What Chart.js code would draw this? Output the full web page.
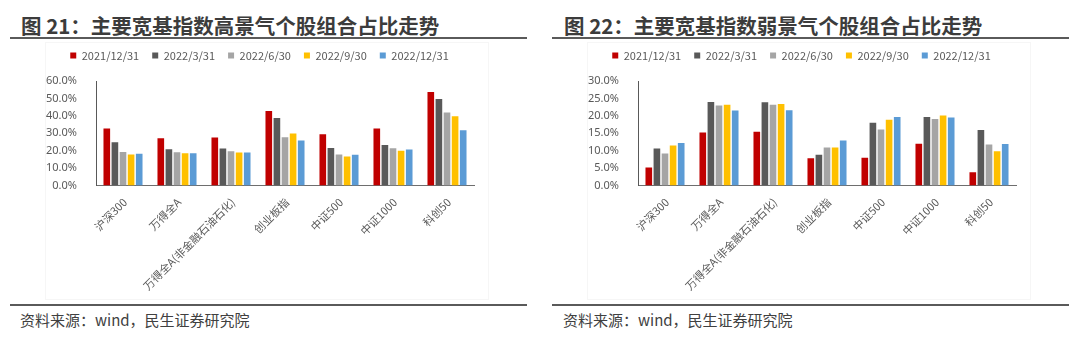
<!DOCTYPE html>
<html>
<head>
<meta charset="utf-8">
<script src="https://cdn.jsdelivr.net/npm/chart.js@4.4.0/dist/chart.umd.min.js"></script>
<style>
  html, body { margin: 0; padding: 0; background: #fff; }
  body { width: 1080px; height: 342px; position: relative; overflow: hidden;
         font-family: "Noto Sans CJK SC", "Noto Sans", sans-serif; }
  .title { position: absolute; top: 13px; height: 24px; line-height: 24px; font-size: 20.5px;
           font-weight: bold; color: #3c3c3c; white-space: nowrap; }
  .rule { position: absolute; height: 2px; background: #5a5a5a; width: 517px; }
  .foot { position: absolute; top: 310px; height: 20px; line-height: 20px; font-size: 15px;
          color: #404040; white-space: nowrap; }
  .frame { position: absolute; top: 42px; height: 258px; border: 1px solid #f6f6f6; box-sizing: border-box; }
  .cv { position: absolute; top: 41px; height: 259px; width: 450px; }
</style>
</head>
<body>
<div class="title" style="left:21px">图 21：主要宽基指数高景气个股组合占比走势</div>
<div class="title" style="left:564px">图 22：主要宽基指数弱景气个股组合占比走势</div>
<div class="rule" style="left:10px; top:37px"></div>
<div class="rule" style="left:552px; top:37px"></div>
<div class="frame" style="left:45px; width:444px"></div>
<div class="frame" style="left:587px; width:444px"></div>
<div class="cv" style="left:45px"><canvas id="c1"></canvas></div>
<div class="cv" style="left:587px"><canvas id="c2"></canvas></div>
<div class="rule" style="left:10px; top:304px"></div>
<div class="rule" style="left:552px; top:304px"></div>
<div class="foot" style="left:20px">资料来源：wind，民生证券研究院</div>
<div class="foot" style="left:563px">资料来源：wind，民生证券研究院</div>

<script>
const categories = ["沪深300", "万得全A", "万得全A(非金融石油石化)", "创业板指", "中证500", "中证1000", "科创50"];
const seriesNames = ["2021/12/31", "2022/3/31", "2022/6/30", "2022/9/30", "2022/12/31"];
const seriesColors = ["#C00000", "#595959", "#A5A5A5", "#FFC000", "#5B9BD5"];

// Chart 1: high-prosperity share (%)
const high_20211231 = [32.7, 27.2, 27.5, 42.8, 29.4, 32.7, 53.7];
const high_20220331 = [24.9, 20.8, 21.2, 38.8, 21.6, 23.3, 49.7];
const high_20220630 = [19.3, 19.1, 19.7, 27.7, 17.8, 21.4, 41.9];
const high_20220930 = [17.8, 18.5, 18.9, 29.8, 16.6, 19.9, 39.8];
const high_20221231 = [18.2, 18.5, 18.9, 25.8, 17.6, 20.6, 31.7];

// Chart 2: weak-prosperity share (%)
const weak_20211231 = [5.2, 15.2, 15.4, 7.8, 8.0, 12.0, 3.8];
const weak_20220331 = [10.6, 24.0, 23.9, 8.8, 18.0, 19.7, 15.9];
const weak_20220630 = [9.2, 23.0, 23.2, 10.9, 16.1, 19.1, 11.8];
const weak_20220930 = [11.5, 23.2, 23.4, 10.9, 18.9, 20.1, 9.8];
const weak_20221231 = [12.2, 21.5, 21.6, 12.9, 19.7, 19.5, 11.9];

const highTicksMax = 60, highTicksStep = 10;
const weakTicksMax = 30, weakTicksStep = 5;

const legendSpacer = {
  id: 'legendSpacer',
  beforeInit(chart) {
    const orig = chart.legend.fit;
    chart.legend.fit = function () {
      orig.bind(chart.legend)();
      this.height += 10;
    };
  }
};

function makeChart(id, seriesArrays, maxV, stepV) {
  const datasets = seriesArrays.map((arr, i) => ({
    label: seriesNames[i],
    data: arr,
    backgroundColor: seriesColors[i],
    borderWidth: 0,
    categoryPercentage: 0.75,
    barPercentage: 0.82
  }));
  return new Chart(document.getElementById(id), {
    type: 'bar',
    data: { labels: categories, datasets },
    plugins: [legendSpacer],
    options: {
      responsive: true,
      maintainAspectRatio: false,
      animation: false,
      devicePixelRatio: 1,
      layout: { padding: { top: -4, left: 0, right: 21, bottom: 0 } },
      plugins: {
        tooltip: { enabled: false },
        legend: {
          position: 'top',
          labels: {
            boxWidth: 6, boxHeight: 6, padding: 13, color: '#595959',
            font: { family: '"Noto Sans CJK SC", "Noto Sans", sans-serif', size: 11 }
          }
        }
      },
      scales: {
        x: {
          grid: { display: false },
          border: { display: true, color: '#6e6e6e', width: 1 },
          ticks: {
            color: '#595959', maxRotation: 45, minRotation: 45, autoSkip: false,
            padding: 2, labelOffset: 2,
            font: { family: '"Noto Sans CJK SC", "Noto Sans", sans-serif', size: 11 }
          },
          afterFit(s) { s.height = 114.5; }
        },
        y: {
          min: 0, max: maxV,
          grid: { display: false },
          border: { display: true, color: '#595959', width: 1 },
          ticks: {
            stepSize: stepV, color: '#595959', padding: 11,
            font: { family: '"Noto Sans", sans-serif', size: 11 },
            callback: v => Number(v).toFixed(1) + '%'
          },
          afterFit(s) { s.width = 51; }
        }
      }
    }
  });
}

makeChart('c1', [high_20211231, high_20220331, high_20220630, high_20220930, high_20221231], highTicksMax, highTicksStep);
makeChart('c2', [weak_20211231, weak_20220331, weak_20220630, weak_20220930, weak_20221231], weakTicksMax, weakTicksStep);
</script>
</body>
</html>
